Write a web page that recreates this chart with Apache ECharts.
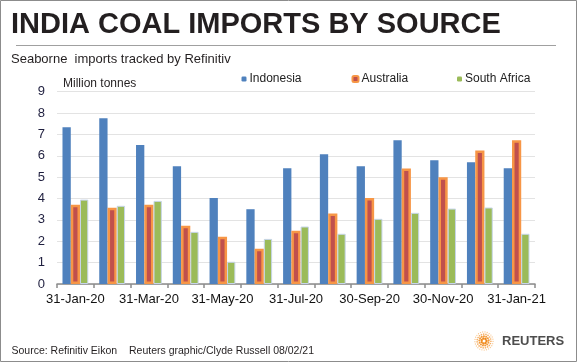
<!DOCTYPE html>
<html>
<head>
<meta charset="utf-8">
<script src="https://cdn.jsdelivr.net/npm/echarts@6/dist/echarts.min.js"></script>
<style>
html,body{margin:0;padding:0;background:#fff;}
#c{width:577px;height:362px;}
</style>
</head>
<body>
<div id="c"></div>
<script>
var categories = ['31-Jan-20','29-Feb-20','31-Mar-20','30-Apr-20','31-May-20','30-Jun-20','31-Jul-20','31-Aug-20','30-Sep-20','31-Oct-20','30-Nov-20','31-Dec-20','31-Jan-21'];
var indonesia = [7.34, 7.76, 6.50, 5.51, 4.02, 3.50, 5.42, 6.07, 5.51, 6.73, 5.79, 5.70, 5.42];
var australia = [3.71, 3.57, 3.71, 2.73, 2.21, 1.65, 2.49, 3.30, 4.02, 5.41, 5.00, 6.25, 6.73];
var southAfrica = [3.95, 3.66, 3.89, 2.44, 1.04, 2.11, 2.69, 2.35, 3.05, 3.33, 3.53, 3.58, 2.35];
var yTicks = [0,1,2,3,4,5,6,7,8,9];

var FONT = '"Liberation Sans", Arial, sans-serif';
var chart = echarts.init(document.getElementById('c'), null, {renderer:'canvas'});

// Reuters logo dots (decoration)
var logoDots = [];
var cx = 484, cy = 341;
for (var ring = 0; ring < 4; ring++) {
  var r = 2.5 + ring * 2.2;
  var n = 7 + ring * 6;
  for (var k = 0; k < n; k++) {
    var a = (k / n) * Math.PI * 2 + ring * 0.35;
    logoDots.push({
      type:'circle', silent:true,
      shape:{cx: cx + r*Math.cos(a), cy: cy + r*Math.sin(a), r: 1.2 - ring*0.18},
      style:{fill: ['#F08A1C','#F39A3A','#F6B066','#F9C994'][ring]}
    });
  }
}

var legendText = {fontFamily:FONT, fontSize:12, color:'#222', padding:[0,0,0,-2]};

var option = {
  animation:false,
  backgroundColor:'#fff',
  textStyle:{fontFamily:FONT},
  grid:{left:57, right:42, top:91.7, bottom:78, containLabel:false},
  legend:[
    {data:['Indonesia'], left:241.5, top:73, padding:0, itemWidth:5, itemHeight:5, itemGap:0,
     textStyle:legendText, itemStyle:{borderWidth:0}},
    {data:['Australia'], left:351.5, top:73, padding:0, itemWidth:6, itemHeight:6, itemGap:0,
     textStyle:legendText, itemStyle:{color:'#C0504D', borderColor:'#F79646', borderWidth:2}},
    {data:['South Africa'], left:457, top:73, padding:0, itemWidth:5, itemHeight:5, itemGap:0,
     textStyle:legendText, itemStyle:{borderWidth:0}}
  ],
  xAxis:{
    type:'category', data:categories, boundaryGap:true,
    axisLine:{show:true, lineStyle:{color:'#8C8C8C', width:1.5}},
    axisTick:{show:true, interval:0, length:4, lineStyle:{color:'#8C8C8C', width:1.5}},
    axisLabel:{interval:1, fontFamily:FONT, fontSize:13, color:'#111', margin:9}
  },
  yAxis:{
    type:'value', min:0, max:9, interval:1,
    axisLine:{show:false}, axisTick:{show:false},
    axisLabel:{fontFamily:FONT, fontSize:13, color:'#1F1F3F', margin:12,
      formatter:function(v){ return yTicks.indexOf(v) >= 0 ? String(v) : ''; }},
    splitLine:{show:true, lineStyle:{color:'#E3E3E3', width:1}}
  },
  series:[
    {name:'Indonesia', type:'bar', data:indonesia, barWidth:8.3, barGap:'0%',
     itemStyle:{color:'#4F81BD'}},
    {name:'Australia', type:'bar', data:australia, barWidth:9.2, barGap:'0%',
     itemStyle:{color:'#C0504D', borderColor:'#F79646', borderWidth:2.5}},
    {name:'South Africa', type:'bar', data:southAfrica, barWidth:8.3, barGap:'0%',
     itemStyle:{color:'#9BBB59', borderColor:'#C6D5EA', borderWidth:1}}
  ],
  graphic:[
    {type:'rect', silent:true, shape:{x:0.5, y:0.5, width:576, height:361},
     style:{fill:'none', stroke:'#8C8C8C', lineWidth:1}, z:100},
    {type:'text', silent:true, x:11, y:25,
     style:{text:'INDIA COAL IMPORTS BY SOURCE', font:'bold 29px ' + FONT, fill:'#231F20', verticalAlign:'middle', align:'left'}},
    {type:'line', silent:true, shape:{x1:16, y1:45.5, x2:556, y2:45.5},
     style:{stroke:'#A0A0A0', lineWidth:1}},
    {type:'text', silent:true, x:11, y:59,
     style:{text:'Seaborne  imports tracked by Refinitiv', font:'13px ' + FONT, fill:'#231F20', verticalAlign:'middle', align:'left'}},
    {type:'text', silent:true, x:63, y:84,
     style:{text:'Million tonnes', font:'12px ' + FONT, fill:'#231F20', verticalAlign:'middle', align:'left'}},
    {type:'text', silent:true, x:11.5, y:351,
     style:{text:'Source: Refinitiv Eikon', font:'10.5px ' + FONT, fill:'#231F20', verticalAlign:'middle', align:'left'}},
    {type:'text', silent:true, x:129, y:351,
     style:{text:'Reuters graphic/Clyde Russell 08/02/21', font:'10.5px ' + FONT, fill:'#231F20', verticalAlign:'middle', align:'left'}},
    {type:'text', silent:true, x:502, y:341.5,
     style:{text:'REUTERS', font:'bold 13px ' + FONT, fill:'#4D4D4D', verticalAlign:'middle', align:'left'}},
    {type:'group', silent:true, children:logoDots}
  ]
};
chart.setOption(option);
</script>
</body>
</html>
